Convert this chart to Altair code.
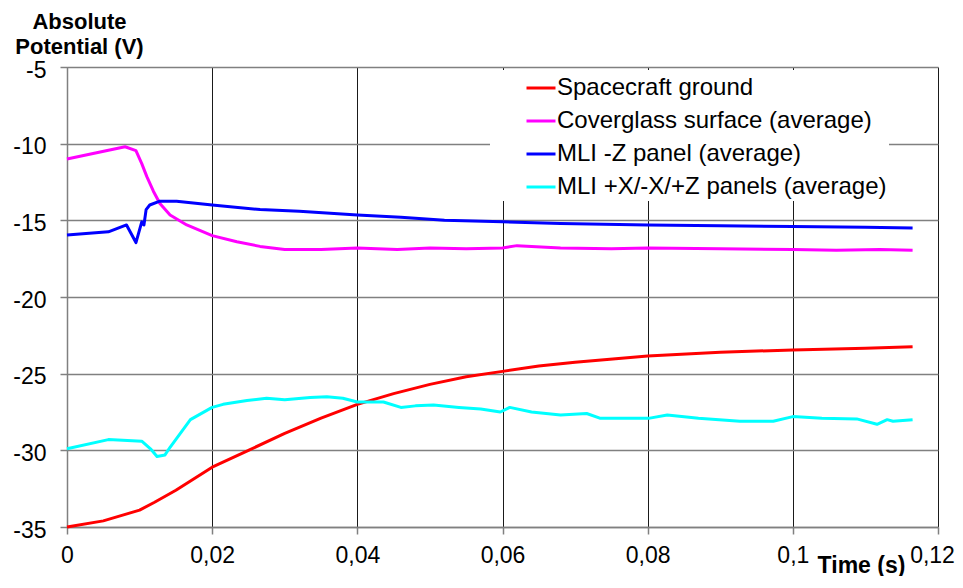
import altair as alt
import pandas as pd

names = ["Spacecraft ground", "Coverglass surface (average)",
         "MLI -Z panel (average)", "MLI +X/-X/+Z panels (average)"]
colors = ["#FF0000", "#FF00FF", "#0000FF", "#00FFFF"]

red_t = [0, 0.005, 0.01, 0.012, 0.015, 0.02, 0.025, 0.03, 0.035, 0.04, 0.045,
         0.05, 0.055, 0.06, 0.065, 0.07, 0.08, 0.09, 0.1, 0.11, 0.1165]
red_v = [-35.0, -34.6, -33.9, -33.4, -32.6, -31.1, -30.0, -28.9, -27.9, -27.0, -26.3,
         -25.7, -25.2, -24.85, -24.5, -24.25, -23.85, -23.6, -23.45, -23.35, -23.25]

mag_t = [0, 0.008, 0.0095, 0.0103, 0.011, 0.0119, 0.0128, 0.0142, 0.0165, 0.02,
         0.0234, 0.0266, 0.03, 0.035, 0.04, 0.0455, 0.05, 0.055, 0.06, 0.062,
         0.068, 0.075, 0.08, 0.09, 0.1, 0.106, 0.112, 0.1165]
mag_v = [-11.0, -10.2, -10.45, -11.3, -12.15, -13.1, -13.9, -14.65, -15.3, -16.0,
         -16.4, -16.7, -16.9, -16.9, -16.8, -16.9, -16.8, -16.85, -16.8, -16.65,
         -16.8, -16.85, -16.8, -16.85, -16.9, -16.95, -16.9, -16.95]

blue_t = [0, 0.0057, 0.0082, 0.0095, 0.0103, 0.0106, 0.0109, 0.0114, 0.0128, 0.0151,
          0.02, 0.0266, 0.032, 0.04, 0.046, 0.052, 0.06, 0.068, 0.08, 0.09, 0.1,
          0.11, 0.1165]
blue_v = [-15.95, -15.75, -15.3, -16.45, -15.1, -15.3, -14.3, -14.0, -13.75, -13.75,
          -14.0, -14.3, -14.4, -14.65, -14.8, -15.0, -15.1, -15.2, -15.3, -15.35, -15.4,
          -15.45, -15.5]

cyan_t = [0, 0.0057, 0.0103, 0.0115, 0.0124, 0.0135, 0.0142, 0.017, 0.02, 0.0215,
          0.0248, 0.0275, 0.03, 0.0335, 0.0358, 0.038, 0.04, 0.0436, 0.046, 0.048,
          0.0505, 0.054, 0.057, 0.0597, 0.061, 0.064, 0.068, 0.0716, 0.0734, 0.077,
          0.0803, 0.0827, 0.087, 0.0927, 0.0973, 0.1, 0.104, 0.1088, 0.1116, 0.113,
          0.1138, 0.1165]
cyan_v = [-29.9, -29.3, -29.4, -29.9, -30.4, -30.3, -29.8, -28.0, -27.2, -27.0,
          -26.75, -26.6, -26.7, -26.55, -26.5, -26.6, -26.85, -26.85, -27.2, -27.1,
          -27.05, -27.2, -27.3, -27.5, -27.2, -27.5, -27.7, -27.6, -27.9, -27.9,
          -27.9, -27.7, -27.9, -28.1, -28.1, -27.8, -27.9, -27.95, -28.3, -28.0,
          -28.1, -28.0]

x_ticks = [0, 0.02, 0.04, 0.06, 0.08, 0.1, 0.12]
y_ticks = [-35, -30, -25, -20, -15, -10, -5]

rows = []
for name, ts, vs in zip(names, [red_t, mag_t, blue_t, cyan_t], [red_v, mag_v, blue_v, cyan_v]):
    for i, (t, v) in enumerate(zip(ts, vs)):
        rows.append({"series": name, "t": t, "v": v, "i": i})
df = pd.DataFrame(rows)

FONT = "Liberation Sans"

chart = alt.Chart(df).mark_line(strokeWidth=3, strokeJoin="round").encode(
    x=alt.X("t:Q",
            scale=alt.Scale(domain=[0, 0.12], nice=False),
            axis=alt.Axis(values=x_ticks, format=".2~f",
                          labelExpr="replace(datum.label, '.', ',')",
                          labelOffset={"condition": {"test": "datum.value >= 0.119", "value": -6},
                                       "value": 0},
                          title="Time (s)", titleX=794, titleY=45,
                          titleAlign="center", titleBaseline="alphabetic",
                          gridColor="#1a1a1a", gridWidth=1,
                          labelPadding=10, tickSize=7, labelFlush=False)),
    y=alt.Y("v:Q",
            scale=alt.Scale(domain=[-35, -5], nice=False, zero=False),
            axis=alt.Axis(values=y_ticks, labelExpr="toString(datum.value)",
                          title=["Absolute", "Potential (V)"], titleAngle=0,
                          titleX=12, titleY=-39, titleAlign="center",
                          titleBaseline="alphabetic", titleLineHeight=25,
                          titleFontSize=22,
                          gridColor="#808080", gridWidth=1.5,
                          labelPadding=14, tickSize=7, labelOffset=3)),
    color=alt.Color("series:N",
                    scale=alt.Scale(domain=names, range=colors),
                    legend=alt.Legend(title=" ", titleOrient="left", titlePadding=33,
                                      titleFontSize=10,
                                      orient="none", legendX=423, legendY=3,
                                      fillColor="white", padding=2,
                                      symbolType="stroke", symbolStrokeWidth=3,
                                      symbolSize=841, labelFontSize=24, labelOffset=0,
                                      labelFont=FONT, labelColor="#000000",
                                      rowPadding=5, labelLimit=500)),
    order="i:Q",
).properties(
    width=871, height=460,
    autosize=alt.AutoSizeParams(type="none"),
    padding={"left": 59, "top": 59, "right": 17, "bottom": 49},
).configure(
    font=FONT
).configure_axis(
    labelFont=FONT, labelFontSize=23, labelColor="#000000",
    titleFont=FONT, titleFontSize=23, titleFontWeight="bold", titleColor="#000000",
    domainColor="#808080", domainWidth=1.5, tickColor="#808080", tickWidth=1.5,
).configure_view(
    strokeWidth=0
)

chart.save("out.html", embed_options={"renderer": "svg", "actions": False})
